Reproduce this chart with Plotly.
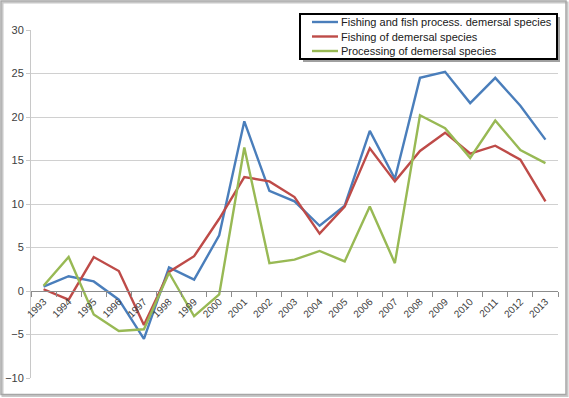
import plotly.graph_objects as go

years = [str(y) for y in range(1993, 2014)]
fishing_processing = [0.5, 1.7, 1.1, -1.0, -5.5, 2.7, 1.3, 6.4, 19.5, 11.5, 10.3, 7.5,
                      9.8, 18.4, 12.9, 24.5, 25.2, 21.6, 24.5, 21.3, 17.4]
fishing = [0.2, -1.0, 3.9, 2.3, -3.9, 2.2, 4.0, 8.3, 13.1, 12.6, 10.8, 6.6,
           9.7, 16.4, 12.6, 16.1, 18.2, 15.8, 16.7, 15.1, 10.3]
processing = [0.6, 3.9, -2.7, -4.6, -4.4, 2.1, -2.9, -0.4, 16.5, 3.2, 3.6, 4.6,
              3.4, 9.7, 3.2, 20.2, 18.7, 15.3, 19.6, 16.2, 14.7]
names = ["Fishing and fish process. demersal species",
         "Fishing of demersal species",
         "Processing of demersal species"]
colors = ["#4A7EBB", "#BE4B48", "#98B954"]
y_ticks = [-10, -5, 0, 5, 10, 15, 20, 25, 30]

W, H = 569, 398
plot_left, plot_right, plot_top, plot_bottom = 31, 558, 30, 378   # screen px
L, R, T, B = plot_left, W - plot_right, plot_top, H - plot_bottom
pw, ph = W - L - R, H - T - B

def px_x(p):
    return (p - L) / pw

def px_y(p):
    return (H - B - p) / ph

fig = go.Figure()
for name, vals, c in zip(names, [fishing_processing, fishing, processing], colors):
    fig.add_trace(go.Scatter(x=years, y=vals, name=name, mode="lines",
                             line=dict(color=c, width=2.4), showlegend=False,
                             hoverinfo="skip"))

shapes = [
    # chart outer border with slight shadow
    dict(type="rect", xref="paper", yref="paper",
         x0=px_x(2.5), x1=px_x(567.5), y0=px_y(2.5), y1=px_y(396),
         line=dict(color="#C8C8C8", width=2), layer="below"),
    dict(type="rect", xref="paper", yref="paper",
         x0=px_x(1), x1=px_x(566), y0=px_y(1), y1=px_y(394.5),
         line=dict(color="#A6A6A6", width=1.5), layer="below"),
    # legend shadow
    dict(type="rect", xref="paper", yref="paper",
         x0=px_x(303), x1=px_x(560), y0=px_y(17), y1=px_y(62),
         line=dict(width=0), fillcolor="#A0A0A0", layer="above"),
    # legend box
    dict(type="rect", xref="paper", yref="paper",
         x0=px_x(300), x1=px_x(557), y0=px_y(14), y1=px_y(59),
         line=dict(color="black", width=2), fillcolor="white", layer="above"),
]
annotations = []
legend_rows = [22, 36.5, 51]
for name, c, yy in zip(names, colors, legend_rows):
    shapes.append(dict(type="line", xref="paper", yref="paper",
                       x0=px_x(312), x1=px_x(338), y0=px_y(yy), y1=px_y(yy),
                       line=dict(color=c, width=2.4), layer="above"))
    annotations.append(dict(xref="paper", yref="paper", x=px_x(339), y=px_y(yy),
                            xanchor="left", yanchor="middle", showarrow=False,
                            text=name, font=dict(size=11, color="#202020")))

fig.update_layout(
    width=W, height=H,
    margin=dict(l=L, r=R, t=T, b=B, autoexpand=False),
    paper_bgcolor="white", plot_bgcolor="white",
    font=dict(family="Liberation Sans", size=11, color="#404040"),
    showlegend=False,
    hovermode=False,
    xaxis=dict(type="category", anchor="free", position=0.25,
               showgrid=False, showline=True, linecolor="#8C8C8C", linewidth=1,
               ticks="outside", tickson="boundaries", ticklen=5, tickcolor="#8C8C8C",
               tickangle=-45, tickfont=dict(size=10, color="#404040"),
               range=[-0.5, 20.5], zeroline=False),
    yaxis=dict(range=[-10, 30], tickvals=y_ticks, showgrid=True, gridcolor="#D0D0D0",
               gridwidth=1, zeroline=False, showline=True, linecolor="#C8C8C8",
               ticks="outside", ticklen=4, tickcolor="#C8C8C8",
               tickfont=dict(size=11, color="#404040")),
    shapes=shapes,
    annotations=annotations,
)

fig.write_html("out.html", config={"displayModeBar": False, "staticPlot": True},
               post_script="document.body.style.margin='0';document.body.style.overflow='hidden';")
